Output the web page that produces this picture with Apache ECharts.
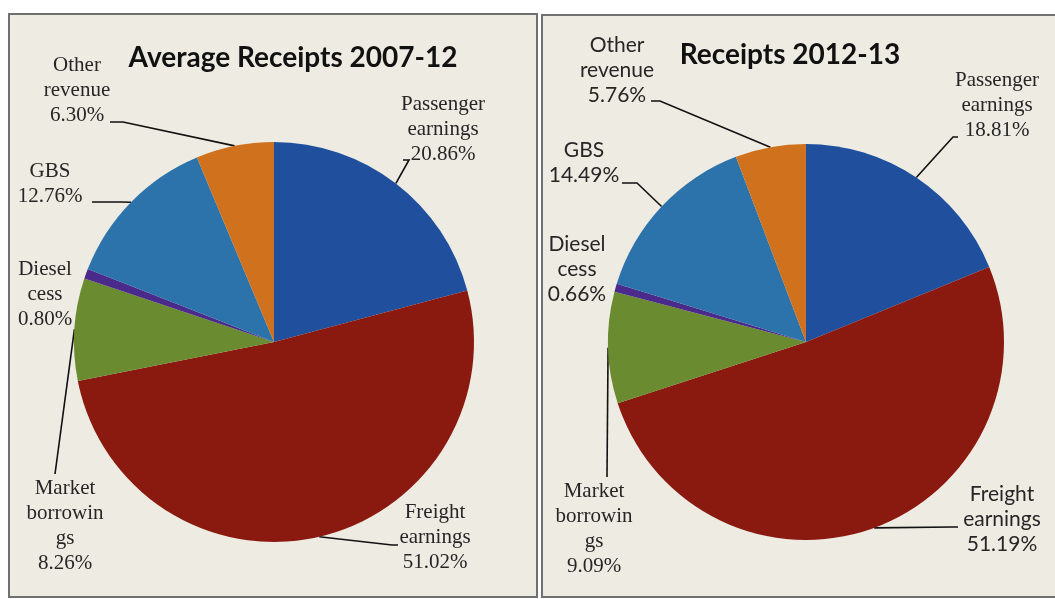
<!DOCTYPE html>
<html>
<head>
<meta charset="utf-8">
<script src="https://cdn.jsdelivr.net/npm/echarts@6/dist/echarts.min.js"></script>
<style>
  html, body { margin: 0; padding: 0; background: #ffffff; }
  #chart { width: 1055px; height: 599px; }
</style>
</head>
<body>
<div id="chart"></div>
<script>
// Railway receipts by source, share of total (%)
const categories = ['Passenger earnings', 'Freight earnings', 'Market borrowings', 'Diesel cess', 'GBS', 'Other revenue'];
const labelNames = ['Passenger\nearnings', 'Freight\nearnings', 'Market\nborrowin\ngs', 'Diesel\ncess', 'GBS', 'Other\nrevenue'];
const share2007to12 = [20.86, 51.02, 8.26, 0.80, 12.76, 6.30];
const share2012to13 = [18.81, 51.19, 9.09, 0.66, 14.49, 5.76];
const panelTitles = ['Average Receipts 2007-12', 'Receipts 2012-13'];

const sliceColors = ['#1f4f9d', '#8a1a0f', '#6a8b30', '#4a2b8b', '#2b73aa', '#d0711d'];
const SERIF = '"Liberation Serif", "Times New Roman", serif';
const SANS = 'Lato, "Liberation Sans", sans-serif';

// Label placement for each panel: block centre, plus the bend and end of the leader line
const labelPlaces = [
  [
    { x: 443, y: 129, bend: [409, 160], end: [403, 160] },
    { x: 435, y: 537, bend: [392, 545], end: [398, 545] },
    { x: 65, y: 526, bend: null, end: [55, 474] },
    { x: 45, y: 294, bend: null, end: null },
    { x: 50, y: 184, bend: [122, 202], end: [92, 202] },
    { x: 77, y: 90, bend: [123, 122], end: [110, 122] }
  ],
  [
    { x: 997, y: 105, bend: [953, 137], end: [958, 137] },
    { x: 1002, y: 519, bend: [952, 527], end: [958, 527] },
    { x: 594, y: 529, bend: null, end: [607, 477] },
    { x: 577, y: 269, bend: null, end: null },
    { x: 584, y: 163, bend: [637, 183], end: [622, 183] },
    { x: 617, y: 70, bend: [660, 101], end: [651, 101] }
  ]
];
const labelFonts = [
  [SERIF, SERIF, SERIF, SERIF, SERIF, SERIF],
  [SERIF, SANS, SERIF, SANS, SANS, SANS]
];

function buildData(values, panel) {
  return values.map((v, i) => ({
    name: categories[i],
    value: v,
    itemStyle: { color: sliceColors[i] },
    label: {
      formatter: labelNames[i] + '\n' + v.toFixed(2) + '%',
      fontFamily: labelFonts[panel][i]
    },
    labelLine: { show: labelPlaces[panel][i].end !== null }
  }));
}

function placeLabel(params) {
  const p = labelPlaces[params.seriesIndex][params.dataIndex];
  const out = { x: p.x, y: p.y, align: 'center', verticalAlign: 'middle' };
  if (p.end && params.labelLinePoints) {
    const edge = params.labelLinePoints[0];
    out.labelLinePoints = p.bend ? [edge, p.bend, p.end] : [edge, p.end, p.end];
  }
  return out;
}

function pieSeries(values, panel, cx, r) {
  return {
    type: 'pie',
    center: [cx, 342],
    radius: [0, r],
    startAngle: 90,
    clockwise: true,
    avoidLabelOverlap: false,
    minShowLabelAngle: 0,
    silent: true,
    z: 2,
    itemStyle: { borderWidth: 0 },
    label: {
      show: true,
      position: 'outside',
      color: '#262626',
      fontSize: 21,
      lineHeight: 25,
      align: 'center'
    },
    labelLine: {
      show: true,
      length: 10,
      length2: 10,
      lineStyle: { color: '#111111', width: 1.6 }
    },
    labelLayout: placeLabel,
    data: buildData(values, panel)
  };
}

const chart = echarts.init(document.getElementById('chart'), null, { renderer: 'canvas' });
chart.setOption({
  backgroundColor: '#ffffff',
  animation: false,
  graphic: [
    {
      type: 'rect', z: 0,
      shape: { x: 9, y: 14, width: 528, height: 583 },
      style: { fill: '#eeebe3', stroke: '#707070', lineWidth: 2 }
    },
    {
      type: 'rect', z: 0,
      shape: { x: 542, y: 15, width: 520, height: 582 },
      style: { fill: '#eeebe3', stroke: '#707070', lineWidth: 2 }
    }
  ],
  title: [
    {
      text: panelTitles[0], left: 288, top: 39, textAlign: 'center',
      textStyle: { fontFamily: SANS, fontWeight: 'bold', fontSize: 28, color: '#111111' }
    },
    {
      text: panelTitles[1], left: 785, top: 36, textAlign: 'center',
      textStyle: { fontFamily: SANS, fontWeight: 'bold', fontSize: 28, color: '#111111' }
    }
  ],
  series: [
    pieSeries(share2007to12, 0, 274, 200),
    pieSeries(share2012to13, 1, 806, 198)
  ]
});
</script>
</body>
</html>
